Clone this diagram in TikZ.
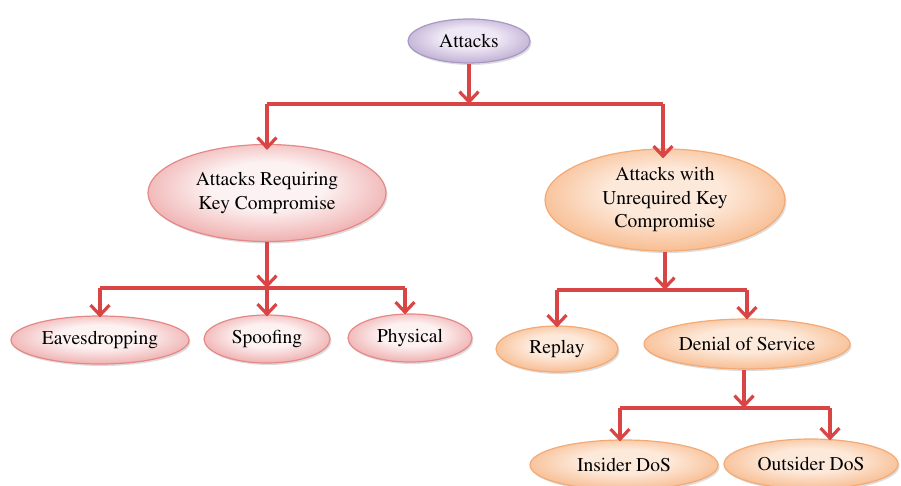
\documentclass[tikz,border=0pt]{standalone}
\usepackage[T1]{fontenc}
\renewcommand{\rmdefault}{ptm}
\usetikzlibrary{shapes.geometric,arrows.meta,shadows}
\definecolor{purpleIn}{HTML}{EEE7F5}
\definecolor{purpleOut}{HTML}{BBAAD0}
\definecolor{purpleDraw}{HTML}{A898C4}
\definecolor{pinkIn}{HTML}{FDF2F2}
\definecolor{pinkOut}{HTML}{EEAAAA}
\definecolor{pinkDraw}{HTML}{E68888}
\definecolor{orangeIn}{HTML}{FDE9DA}
\definecolor{orangeOut}{HTML}{F7B98B}
\definecolor{orangeDraw}{HTML}{F3AA74}
\definecolor{connred}{HTML}{D94444}
\pgfdeclareradialshading{purpleshade}{\pgfpoint{0bp}{5bp}}{color(0bp)=(purpleIn); color(12bp)=(purpleIn); color(29bp)=(purpleOut); color(50bp)=(purpleOut)}
\pgfdeclareradialshading{pinkshade}{\pgfpoint{0bp}{5bp}}{color(0bp)=(pinkIn); color(12bp)=(pinkIn); color(29bp)=(pinkOut); color(50bp)=(pinkOut)}
\pgfdeclareradialshading{orangeshade}{\pgfpoint{0bp}{5bp}}{color(0bp)=(orangeIn); color(12bp)=(orangeIn); color(29bp)=(orangeOut); color(50bp)=(orangeOut)}
\tikzset{
  oval/.style={ellipse, inner sep=0pt, line width=1.2pt, align=center,
    font=\fontsize{19.5}{23.5}\selectfont,
    drop shadow={shadow xshift=1.5pt, shadow yshift=-2pt, opacity=0.22, fill=black!60}},
  purpleoval/.style={oval, draw=purpleDraw, shading=purpleshade},
  pinkoval/.style={oval, draw=pinkDraw, shading=pinkshade},
  orangeoval/.style={oval, draw=orangeDraw, shading=orangeshade},
  conn/.style={draw=connred, line width=3.2pt},
  arr/.style={conn, -{Straight Barb[length=10pt,width=19pt,line width=3.2pt]}},
}
\begin{document}
\begin{tikzpicture}[x=1pt,y=-1pt]
\useasboundingbox (0,0) rectangle (901,486);

% nodes
\node[purpleoval, minimum width=122pt, minimum height=44pt] (att) at (469,41) {Attacks};
\node[pinkoval, minimum width=238pt, minimum height=97pt] (req) at (267,193) {Attacks Requiring\\Key Compromise};
\node[orangeoval, minimum width=240pt, minimum height=102pt] (unr) at (665,200) {Attacks with\\Unrequired Key\\Compromise};
\node[pinkoval, minimum width=178pt, minimum height=48pt] (eav) at (100,340) {Eavesdropping};
\node[pinkoval, minimum width=126pt, minimum height=48pt] (spo) at (267,339) {Spoofing};
\node[pinkoval, minimum width=124pt, minimum height=48pt] (phy) at (410,338) {Physical};
\node[orangeoval, minimum width=122pt, minimum height=46pt] (rep) at (557,349) {Replay};
\node[orangeoval, minimum width=206pt, minimum height=50pt] (dos) at (747,344) {Denial of Service};
\node[orangeoval, minimum width=188pt, minimum height=50pt] (ins) at (624,465) {Insider DoS};
\node[orangeoval, minimum width=174pt, minimum height=50pt] (out) at (811,464) {Outsider DoS};

% bars
\coordinate (b1) at (469,104);
\coordinate (b1l) at (267,104);
\coordinate (b1r) at (663,104);
\coordinate (b2) at (267,288);
\coordinate (b2l) at (100,288);
\coordinate (b2r) at (405,288);
\coordinate (b3) at (665,290);
\coordinate (b3l) at (557,290);
\coordinate (b3r) at (747,290);
\coordinate (b4) at (744,408);
\coordinate (b4l) at (620,408);
\coordinate (b4r) at (830,408);

% connectors
\draw[arr] (att.south) -- (b1);
\draw[conn] (b1l) -- (b1r);
\draw[arr] (b1l) -- ([yshift=-6pt]req.north);
\draw[arr] (b1r) -- ([yshift=-10pt]unr.north -| b1r);

\draw[arr] (req.south) -- (b2);
\draw[conn] (b2l) -- (b2r);
\draw[arr] (b2l) -- ([yshift=-2pt]eav.north);
\draw[arr] (b2) -- ([yshift=-2pt]spo.north);
\draw[arr] (b2r) -- ([yshift=-1pt]phy.north -| b2r);

\draw[arr] (unr.south) -- (b3);
\draw[conn] (b3l) -- (b3r);
\draw[arr] (b3l) -- ([yshift=-2pt]rep.north);
\draw[arr] (b3r) -- ([yshift=-1pt]dos.north);

\draw[arr] (dos.south -| b4) -- (b4);
\draw[conn] (b4l) -- (b4r);
\draw[arr] (b4l) -- ([yshift=-2pt]ins.north -| b4l);
\draw[arr] (b4r) -- ([yshift=-2pt]out.north -| b4r);
\end{tikzpicture}
\end{document}
